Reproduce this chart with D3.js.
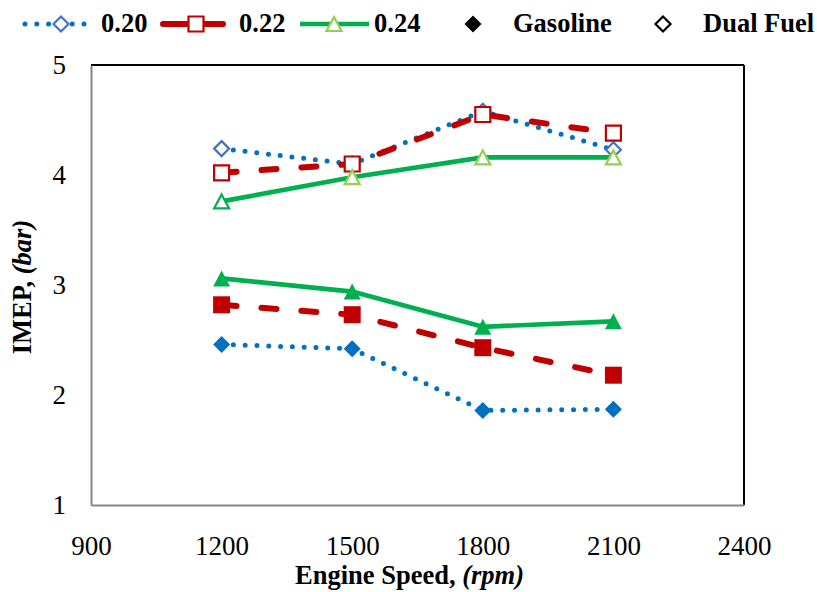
<!DOCTYPE html>
<html>
<head>
<meta charset="utf-8">
<script src="https://cdn.jsdelivr.net/npm/d3@7"></script>
<style>
  html, body { margin: 0; padding: 0; background: #fff; }
  text { font-family: "Liberation Serif", "Times New Roman", serif; }
</style>
</head>
<body>
<svg id="chart" width="817" height="592"></svg>
<script>
// Engine speed (rpm)
const speeds = [1200, 1500, 1800, 2100];

// IMEP (bar) per lambda setting, gasoline and dual-fuel operation
const gasoline020 = [2.46, 2.42, 1.86, 1.87];
const gasoline022 = [2.82, 2.73, 2.43, 2.18];
const gasoline024 = [3.06, 2.94, 2.62, 2.67];
const dual020 = [4.24, 4.10, 4.58, 4.23];
const dual022 = [4.02, 4.10, 4.55, 4.38];
const dual024 = [3.76, 3.98, 4.16, 4.16];

const xTicks = [900, 1200, 1500, 1800, 2100, 2400];
const yTicks = [1, 2, 3, 4, 5];

const svg = d3.select("#chart");
const plotL = 91, plotR = 744, plotT = 65, plotB = 505;

const x = d3.scaleLinear().domain([900, 2400]).range([plotL, plotR]);
const y = d3.scaleLinear().domain([1, 5]).range([plotB, plotT]);

const BLUE = "#0070C0", BLUE_OPEN = "#4472C4", RED = "#C00000",
      GREEN = "#00B050", LGREEN = "#92D050";
const FONT = 27;

// frame: left/bottom axes grey, top/right border black
svg.append("line").attr("x1", plotL).attr("x2", plotR).attr("y1", plotT).attr("y2", plotT)
  .attr("stroke", "#000").attr("stroke-width", 2);
svg.append("line").attr("x1", plotR).attr("x2", plotR).attr("y1", plotT).attr("y2", plotB)
  .attr("stroke", "#000").attr("stroke-width", 2);

const xAxis = svg.append("g").attr("transform", `translate(0,${plotB})`)
  .call(d3.axisBottom(x).tickValues(xTicks).tickSize(0).tickPadding(31).tickFormat(d3.format("d")));
const yAxis = svg.append("g").attr("transform", `translate(${plotL},0)`)
  .call(d3.axisLeft(y).tickValues(yTicks).tickSize(0).tickPadding(25).tickFormat(d3.format("d")));
[xAxis, yAxis].forEach(g => {
  g.select(".domain").attr("stroke", "#868686").attr("stroke-width", 2);
  g.selectAll("text").attr("font-size", FONT).attr("fill", "#000")
    .attr("font-family", "Liberation Serif, Times New Roman, serif");
});
yAxis.selectAll("text").attr("dy", "0.33em");

// axis titles
svg.append("text").attr("x", (plotL + plotR) / 2 - 8).attr("y", 584)
  .attr("text-anchor", "middle").attr("font-size", 26.5).attr("font-weight", "bold")
  .call(t => {
    t.append("tspan").text("Engine Speed, ");
    t.append("tspan").attr("font-style", "italic").text("(rpm)");
  });
svg.append("text").attr("transform", `translate(31,${(plotT + plotB) / 2 + 2}) rotate(-90)`)
  .attr("text-anchor", "middle").attr("font-size", 26.5).attr("font-weight", "bold")
  .call(t => {
    t.append("tspan").text("IMEP, ");
    t.append("tspan").attr("font-style", "italic").text("(bar)");
  });

// line styles
const styles = {
  "0.20": { color: BLUE, width: 5, dash: "0 11.8", cap: "round" },
  "0.22": { color: RED, width: 6, dash: "15 25", cap: "round" },
  "0.24": { color: GREEN, width: 4.7, dash: null, cap: "butt" }
};

const line = d3.line().x((d, i) => x(speeds[i])).y(d => y(d));

// marker outlines, centred on the data point
const markerPath = {
  diamond: (filled) => { const h = filled ? 8.5 : 7.5; return `M0,${-h}L${h},0L0,${h}L${-h},0Z`; },
  square: (filled) => { const h = filled ? 8.5 : 7.5; return `M${-h},${-h}H${h}V${h}H${-h}Z`; },
  triangle: (filled) => { const w = filled ? 8.5 : 7.5, h = filled ? 8 : 7; return `M0,${-h}L${w},${h}L${-w},${h}Z`; }
};

function drawMarker(g, shape, cx, cy, fill, stroke) {
  const filled = !stroke;
  const p = g.append("path").attr("d", markerPath[shape](filled))
    .attr("transform", `translate(${cx},${cy})`).attr("fill", fill);
  if (stroke) p.attr("stroke", stroke).attr("stroke-width", 2.2);
  return p;
}

const series = [
  { key: "0.20", vals: gasoline020, shape: "diamond", fill: BLUE, stroke: null },
  { key: "0.22", vals: gasoline022, shape: "square", fill: RED, stroke: null },
  { key: "0.24", vals: gasoline024, shape: "triangle", fill: GREEN, stroke: null },
  { key: "0.20", vals: dual020, shape: "diamond", fill: "#fff", stroke: BLUE_OPEN },
  { key: "0.22", vals: dual022, shape: "square", fill: "#fff", stroke: RED },
  { key: "0.24", vals: dual024, shape: "triangle", fill: "#fff", stroke: LGREEN, firstStroke: GREEN }
];

series.forEach(s => {
  const st = styles[s.key];
  const g = svg.append("g");
  g.append("path").datum(s.vals).attr("d", line).attr("fill", "none")
    .attr("stroke", st.color).attr("stroke-width", st.width)
    .attr("stroke-dasharray", st.dash).attr("stroke-linecap", st.cap)
    .attr("stroke-linejoin", "round");
  s.vals.forEach((v, i) => {
    const stroke = (i === 0 && s.firstStroke) ? s.firstStroke : s.stroke;
    drawMarker(g, s.shape, x(speeds[i]), y(v), s.fill, stroke);
  });
});

// legend
const legendY = 24;
const legendItems = [
  { label: "0.20", x0: 25, x1: 86, mx: 61, shape: "diamond", fill: "#fff", stroke: BLUE_OPEN, tx: 101 },
  { label: "0.22", x0: 163, x1: 223, mx: 196, shape: "square", fill: "#fff", stroke: RED, tx: 239 },
  { label: "0.24", x0: 300, x1: 369, mx: 334, shape: "triangle", fill: "#fff", stroke: LGREEN, tx: 374 }
];
const lg = svg.append("g");
legendItems.forEach(it => {
  const st = styles[it.label];
  lg.append("line").attr("x1", it.x0).attr("x2", it.x1).attr("y1", legendY).attr("y2", legendY)
    .attr("stroke", st.color).attr("stroke-width", st.width)
    .attr("stroke-dasharray", it.label === "0.22" ? null : st.dash)
    .attr("stroke-linecap", st.cap);
  drawMarker(lg, it.shape, it.mx, legendY, it.fill, it.stroke);
  lg.append("text").attr("x", it.tx).attr("y", 32)
    .attr("font-size", 26.5).attr("font-weight", "bold").text(it.label);
});
drawMarker(lg, "diamond", 473, legendY, "#000", null);
lg.append("text").attr("x", 513).attr("y", 32)
  .attr("font-size", 26.5).attr("font-weight", "bold").text("Gasoline");
drawMarker(lg, "diamond", 663, legendY, "#fff", "#000");
lg.append("text").attr("x", 703).attr("y", 32)
  .attr("font-size", 26.5).attr("font-weight", "bold").text("Dual Fuel");
</script>
</body>
</html>
